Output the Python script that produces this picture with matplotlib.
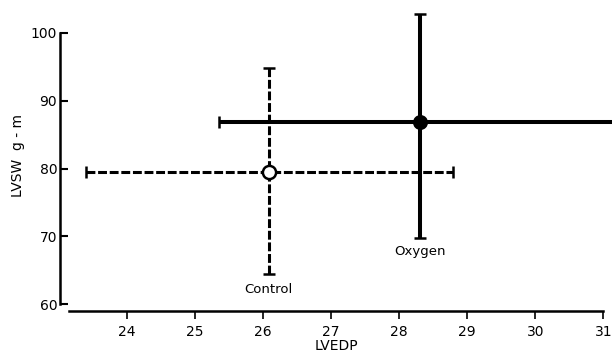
import matplotlib
matplotlib.use("Agg")
import matplotlib.pyplot as plt

# group means with error-bar extents
groups = ["Control", "Oxygen"]
lvedp = [26.08, 28.3]
lvedp_low = [23.40, 25.35]
lvedp_high = [28.79, 31.25]
lvsw = [79.5, 86.8]
lvsw_low = [64.5, 69.8]
lvsw_high = [94.8, 102.8]
label_y = [62.1, 67.7]

x_ticks = [24, 25, 26, 27, 28, 29, 30, 31]
y_ticks = [60, 70, 80, 90, 100]

fig = plt.figure(figsize=(6.12, 3.63), dpi=100)
ax = fig.add_axes([60 / 612, 52 / 363, 552 / 612, 311 / 363])

styles = {
    "Control": dict(ls=(0, (2.9, 0.9)), face="white", lw=2.2, ms=9.5),
    "Oxygen": dict(ls="-", face="black", lw=2.9, ms=9),
}

for i, g in enumerate(groups):
    st = styles[g]
    eb = ax.errorbar(
        [lvedp[i]], [lvsw[i]],
        xerr=[[lvedp[i] - lvedp_low[i]], [lvedp_high[i] - lvedp[i]]],
        yerr=[[lvsw[i] - lvsw_low[i]], [lvsw_high[i] - lvsw[i]]],
        fmt="o", color="black", ecolor="black", elinewidth=st["lw"],
        capsize=4, capthick=1.8, markersize=st["ms"], markeredgewidth=1.8,
        markerfacecolor=st["face"], markeredgecolor="black", zorder=3,
    )
    for col in eb[2]:
        col.set_linestyle(st["ls"])
    ax.text(lvedp[i], label_y[i], g, ha="center", va="center", fontsize=9.5)

ax.set_xlim(23.015, 31.128)
ax.set_ylim(58.97, 104.87)
ax.set_xticks(x_ticks)
ax.set_yticks(y_ticks)

for s in ["top", "right"]:
    ax.spines[s].set_visible(False)
ax.spines["left"].set_bounds(60, 100)
ax.spines["bottom"].set_bounds(23.15, 31)
ax.spines["left"].set_linewidth(1.8)
ax.spines["bottom"].set_linewidth(1.8)

ax.tick_params(axis="y", direction="in", length=6, width=1.5, labelsize=10, pad=2)
ax.tick_params(axis="x", direction="out", length=6, width=1.2, labelsize=10, pad=4)

ax.set_xlabel("LVEDP", fontsize=10, labelpad=0)
ax.set_ylabel("LVSW  g - m", fontsize=10, labelpad=4)

fig.savefig("out.png", dpi=100)
